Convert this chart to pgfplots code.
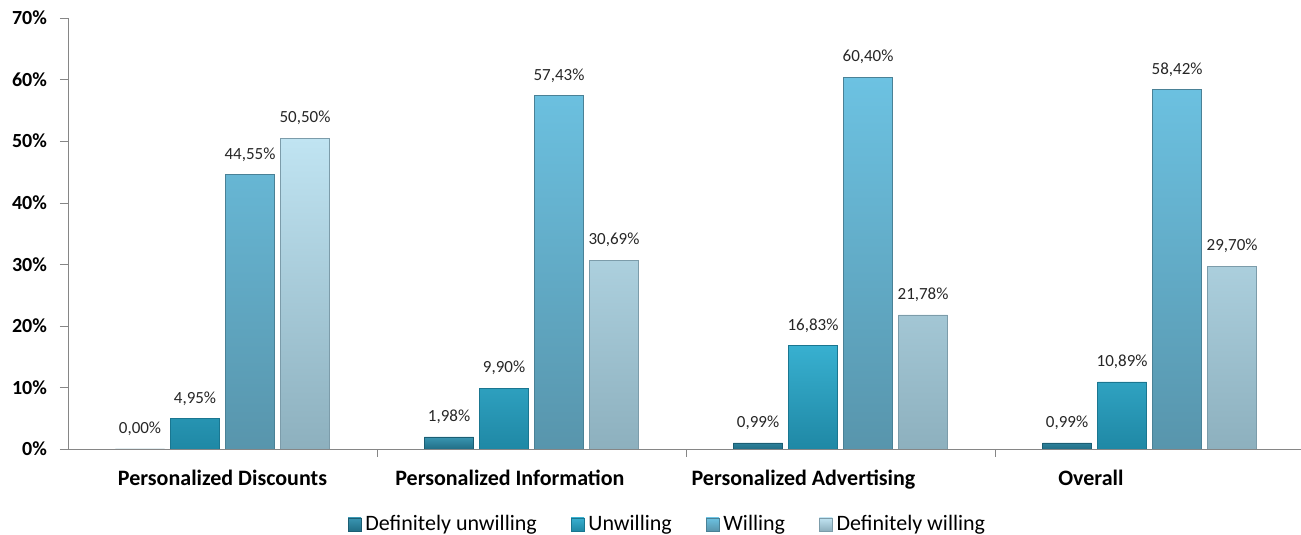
\documentclass[border=0pt]{standalone}
\usepackage{pgfplots}
\pgfplotsset{compat=1.18}
\usepackage{fontspec}
\setmainfont{Carlito}
\definecolor{duT}{HTML}{3A96B2}\definecolor{duB}{HTML}{216E86}\definecolor{duE}{HTML}{1B5E73}
\definecolor{uT}{HTML}{38B0D0}\definecolor{uB}{HTML}{1F88A5}\definecolor{uE}{HTML}{1A7690}
\definecolor{wT}{HTML}{6CC2E2}\definecolor{wB}{HTML}{5895AC}\definecolor{wE}{HTML}{4A8196}
\definecolor{dwT}{HTML}{C0E4F2}\definecolor{dwB}{HTML}{8DB0BE}\definecolor{dwE}{HTML}{7C9CAA}
\definecolor{axisgray}{HTML}{868686}
\begin{document}
\begin{tikzpicture}
\useasboundingbox (-34pt,-43pt) rectangle (616.5pt,224.5pt);
\begin{axis}[
  scale only axis,
  width=616.5pt, height=215.5pt,
  xmin=-0.5, xmax=3.49, ymin=0, ymax=70,
  ybar, bar width=0.159,
  axis x line=bottom, axis y line=left,
  axis line style={-, draw=axisgray},
  /pgf/number format/assume math mode=true,
  ytick={0,10,...,70},
  yticklabel={\pgfmathprintnumber{\tick}\%},
  yticklabel style={font=\fontsize{10}{12}\selectfont\bfseries, xshift=-3pt},
  ytick align=outside, ytick pos=left,
  major tick length=4pt,
  tick style={draw=axisgray},
  xtick={0,0.93,1.88,2.81},
  xticklabels={Personalized Discounts, Personalized Information, Personalized Advertising, Overall},
  xticklabel style={font=\fontsize{11}{13}\selectfont\bfseries, anchor=base, yshift=-16.5pt},
  x tick style={draw=none},
  extra x ticks={0.5,1.5,2.5},
  extra x tick labels={},
  extra x tick style={x tick style={draw=axisgray}, tick align=outside, major tick length=4pt},
  nodes near coords={\pgfmathprintnumber[fixed, fixed zerofill, precision=2, use comma]{\pgfplotspointmeta}\%},
  every node near coord/.append style={font=\fontsize{8.5}{10}\selectfont, text=black!85, anchor=south, yshift=3pt},
  legend style={at={(0.487,-0.176)}, anchor=center, draw=none, fill=none,
    font=\fontsize{11}{13}\selectfont,
    /tikz/every even column/.append style={column sep=15pt}},
  legend columns=4,
  legend image code/.code={\draw[#1] (0pt,-3pt) rectangle (6.5pt,3.5pt);},
]
\addplot[bar shift=-0.267, draw=duE, line width=0.3pt, top color=duT, bottom color=duB]
  coordinates {(0,0.00) (1,1.98) (2,0.99) (3,0.99)};
\addplot[bar shift=-0.089, draw=uE, line width=0.3pt, top color=uT, bottom color=uB]
  coordinates {(0,4.95) (1,9.90) (2,16.83) (3,10.89)};
\addplot[bar shift=0.089, draw=wE, line width=0.3pt, top color=wT, bottom color=wB]
  coordinates {(0,44.55) (1,57.43) (2,60.40) (3,58.42)};
\addplot[bar shift=0.267, draw=dwE, line width=0.3pt, top color=dwT, bottom color=dwB]
  coordinates {(0,50.50) (1,30.69) (2,21.78) (3,29.70)};
\legend{Definitely unwilling, Unwilling, Willing, Definitely willing}
\end{axis}
\end{tikzpicture}
\end{document}
